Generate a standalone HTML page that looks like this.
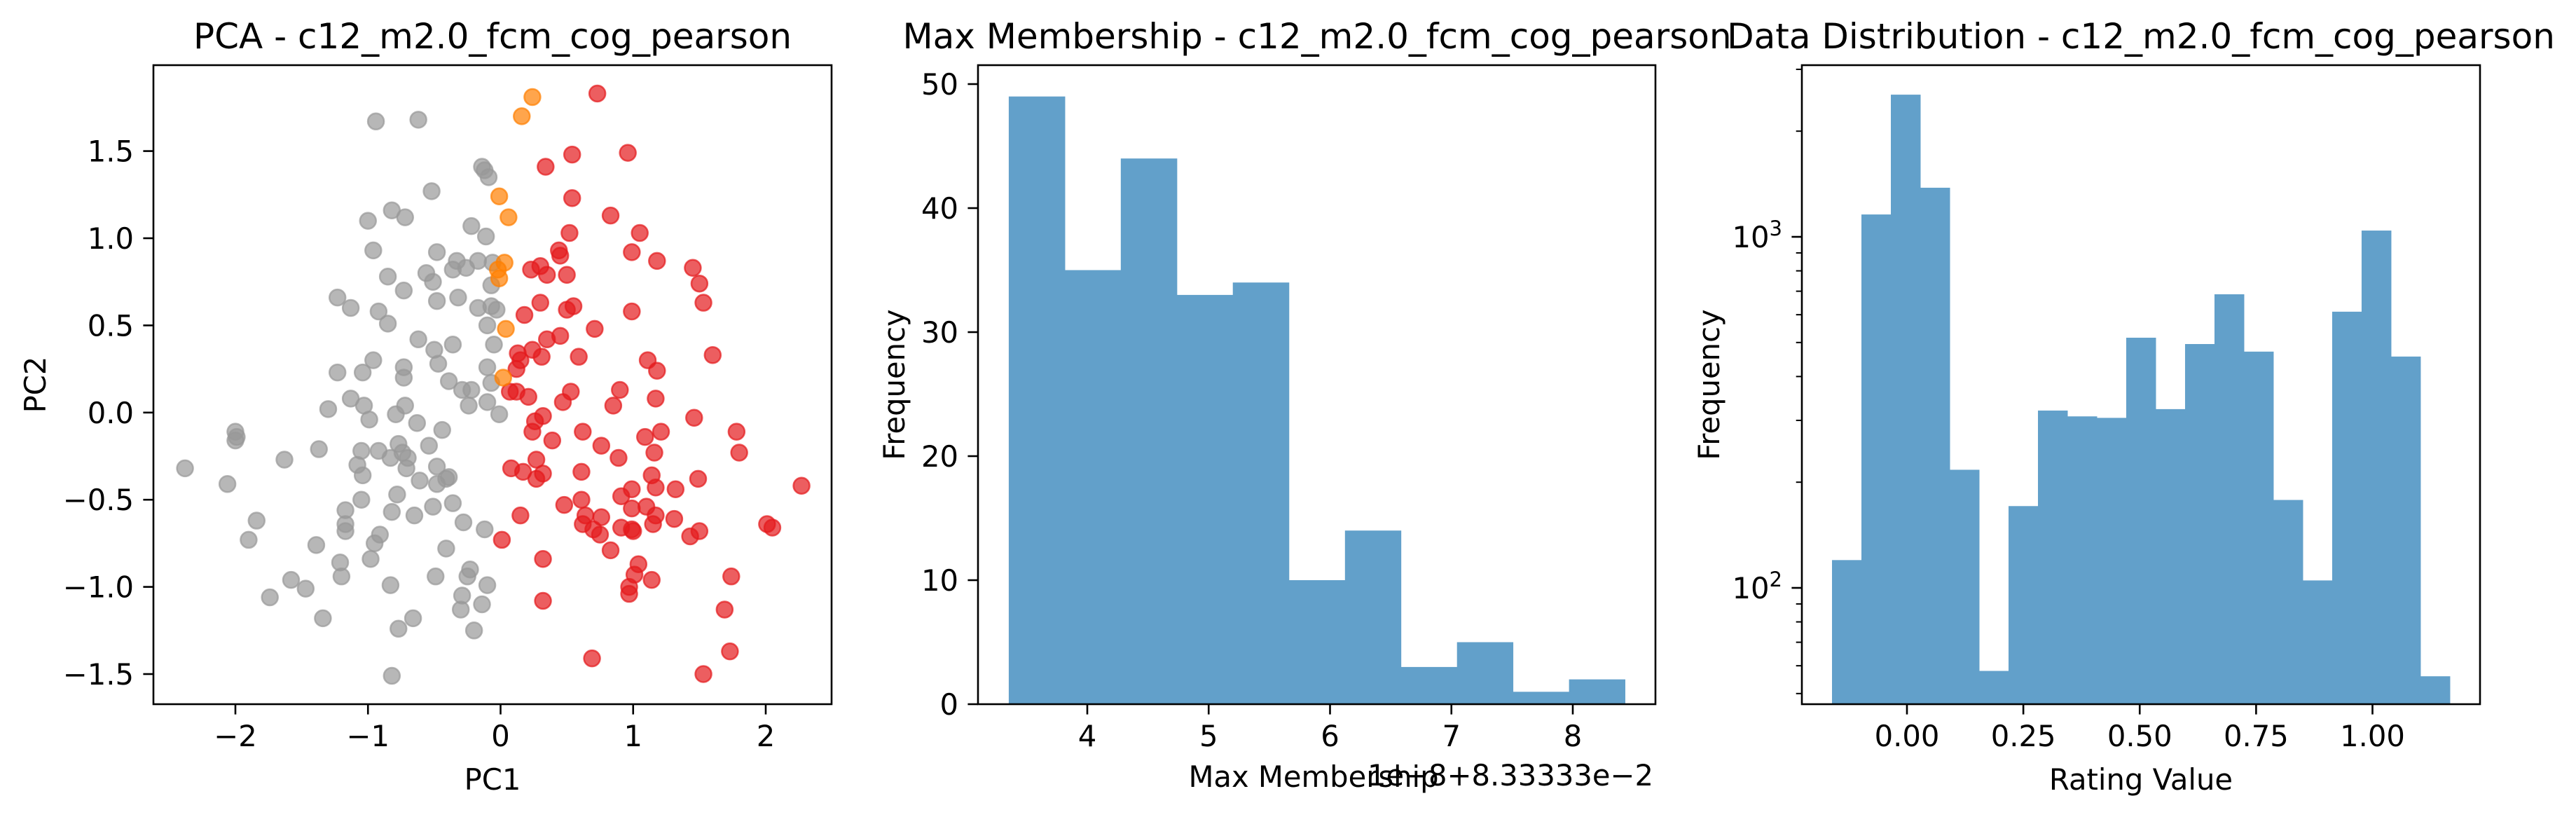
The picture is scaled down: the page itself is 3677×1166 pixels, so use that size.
<!DOCTYPE html>
<html><head><meta charset="utf-8"><style>
html,body{margin:0;padding:0;background:#fff}
svg{display:block}
text{font-family:"DejaVu Sans","Liberation Sans",sans-serif;fill:#000}
</style></head><body>
<svg id="fig" xmlns="http://www.w3.org/2000/svg" width="3677" height="1166" viewBox="0 0 3677 1166">
<rect width="3677" height="1166" fill="#fff"/>
</svg>
<script>
// ---- PCA data ----
const grayX=[-0.94,-0.62,-0.14,-0.12,-0.09,-0.52,-0.82,-0.72,-1.00,-0.22,-0.11,-0.96,-0.48,-0.33,-0.36,-0.26,-0.17,-0.06,-0.85,-0.56,-0.51,-0.07,-0.73,-1.23,-0.32,-0.48,-1.13,-0.92,-0.17,-0.07,-0.03,-0.85,-0.10,-0.62,-0.36,-0.50,-0.05,-0.96,-0.47,-0.73,-0.10,-1.23,-1.04,-0.73,-0.39,-0.07,-0.29,-0.22,-1.13,-1.03,-0.72,-1.30,-0.24,-0.10,-0.99,-0.79,-0.01,-0.63,-0.44,-2.00,-1.99,-2.00,-1.37,-0.54,-0.77,-1.05,-0.92,-0.74,-0.83,-0.70,-1.63,-2.38,-1.08,-0.48,-0.71,-1.04,-0.39,-0.41,-0.61,-0.48,-2.06,-0.78,-1.05,-0.36,-0.51,-1.17,-0.82,-0.65,-1.84,-1.17,-0.28,-1.17,-0.12,-1.90,-0.91,-0.95,-1.39,-0.41,-0.98,-1.21,-1.20,-0.49,-0.23,-0.25,-1.58,-0.83,-1.47,-0.10,-0.29,-1.74,-0.14,-0.30,-1.34,-0.66,-0.77,-0.20,-0.82];
const grayY=[1.67,1.68,1.41,1.39,1.35,1.27,1.16,1.12,1.10,1.07,1.01,0.93,0.92,0.87,0.82,0.83,0.87,0.86,0.78,0.80,0.75,0.73,0.70,0.66,0.66,0.64,0.60,0.58,0.60,0.61,0.59,0.51,0.50,0.42,0.39,0.36,0.39,0.30,0.28,0.26,0.26,0.23,0.23,0.20,0.18,0.17,0.13,0.13,0.08,0.04,0.04,0.02,0.04,0.06,-0.04,-0.01,-0.01,-0.06,-0.10,-0.11,-0.14,-0.16,-0.21,-0.19,-0.18,-0.22,-0.22,-0.23,-0.26,-0.26,-0.27,-0.32,-0.30,-0.31,-0.32,-0.36,-0.37,-0.38,-0.39,-0.41,-0.41,-0.47,-0.50,-0.52,-0.54,-0.56,-0.57,-0.59,-0.62,-0.64,-0.63,-0.68,-0.67,-0.73,-0.70,-0.75,-0.76,-0.78,-0.84,-0.86,-0.94,-0.94,-0.90,-0.94,-0.96,-0.99,-1.01,-0.99,-1.05,-1.06,-1.10,-1.13,-1.18,-1.18,-1.24,-1.25,-1.51];
const redX=[0.73,0.54,0.96,0.34,0.54,0.83,0.52,1.05,0.44,0.45,0.99,1.18,0.30,0.23,0.35,0.50,1.45,1.50,1.53,0.30,0.55,0.50,0.18,0.99,0.71,0.45,0.35,0.24,0.13,0.15,0.31,0.59,1.60,1.11,1.18,0.12,0.07,0.12,0.21,0.53,0.90,0.47,0.85,1.17,1.46,0.32,0.26,0.24,0.62,1.21,1.78,0.39,1.09,0.76,1.16,1.80,0.89,0.27,0.08,0.17,0.32,0.27,0.61,1.14,1.49,2.27,1.17,1.32,0.99,0.91,0.48,0.61,0.99,1.10,0.64,0.76,1.17,1.31,0.15,0.62,0.91,0.99,1.15,0.70,0.75,1.00,2.01,2.05,1.50,1.43,0.01,0.83,0.32,1.04,1.01,1.14,1.74,0.97,0.97,0.32,1.69,1.73,0.69,1.53];
const redY=[1.83,1.48,1.49,1.41,1.23,1.13,1.03,1.03,0.93,0.90,0.92,0.87,0.84,0.82,0.79,0.79,0.83,0.74,0.63,0.63,0.61,0.59,0.56,0.58,0.48,0.44,0.42,0.36,0.34,0.30,0.32,0.32,0.33,0.30,0.24,0.25,0.12,0.12,0.09,0.12,0.13,0.06,0.04,0.08,-0.03,-0.02,-0.05,-0.11,-0.11,-0.11,-0.11,-0.16,-0.14,-0.19,-0.23,-0.23,-0.26,-0.27,-0.32,-0.34,-0.35,-0.38,-0.34,-0.36,-0.38,-0.42,-0.43,-0.44,-0.44,-0.48,-0.53,-0.50,-0.55,-0.54,-0.59,-0.60,-0.59,-0.61,-0.59,-0.64,-0.66,-0.67,-0.64,-0.67,-0.70,-0.68,-0.64,-0.66,-0.68,-0.71,-0.73,-0.79,-0.84,-0.87,-0.93,-0.96,-0.94,-1.00,-1.04,-1.08,-1.13,-1.37,-1.41,-1.50];
const orangeX=[0.24,0.16,-0.01,0.06,0.03,-0.02,-0.01,0.04,0.02];
const orangeY=[1.81,1.70,1.24,1.12,0.86,0.82,0.77,0.48,0.20];
const pcaXTicks=[-2,-1,0,1,2];
const pcaYTicks=[-1.5,-1.0,-0.5,0.0,0.5,1.0,1.5];
// ---- Max membership histogram ----
const mmEdges=[3.353,3.815,4.276,4.738,5.199,5.661,6.123,6.584,7.046,7.507,7.969,8.43];
const mmCounts=[49,35,44,33,34,10,14,3,5,1,2];
const mmXTicks=[4,5,6,7,8];
const mmYTicks=[0,10,20,30,40,50];
// ---- Rating distribution histogram ----
const rvStart=-0.161, rvWidth=0.0632;
const rvCounts=[120,1158,2541,1380,217,58,171,320,308,305,516,323,495,686,471,178,105,612,1042,456,56];
const rvXTicks=[0,0.25,0.5,0.75,1.0];
const rvXTickLabels=["0.00","0.25","0.50","0.75","1.00"];
const rvYMajor=[100,1000];
const rvYMinor=[50,60,70,80,90,200,300,400,500,600,700,800,900,2000,3000];

const NS="http://www.w3.org/2000/svg";
const svg=document.getElementById('fig');
const BAR='#62a0ca';
function mk(tag,attrs,parent){const e=document.createElementNS(NS,tag);for(const k in attrs)e.setAttribute(k,attrs[k]);(parent||svg).appendChild(e);return e;}
function txt(s,x,y,size,anchor,parent,rot){const t=mk('text',{x:x,y:y,'font-size':size,'text-anchor':anchor||'middle'},parent);if(rot)t.setAttribute('transform','rotate(-90 '+x+' '+y+')');t.textContent=s;return t;}
function lin(d0,d1,p0,p1){return v=>p0+(v-d0)*(p1-p0)/(d1-d0);}
const TOP=93,BOT=1005,FS=41.7,TFS=50;
function frame(g,L,R){mk('rect',{x:L,y:TOP,width:R-L,height:BOT-TOP,fill:'none',stroke:'#000','stroke-width':2.6},g);}
function fmt(v){return (v<0?'\u2212':'')+Math.abs(v).toFixed(1);}

// ===== Panel 1: PCA =====
(function(){
 const g=mk('g',{});
 
 
 const L=219,R=1187;
 const sx=lin(-2,2,336,1093), sy=lin(-1.5,1.5,962,215.6);
 function pts(X,Y,col,name){const gg=mk('g',{},g);
  for(let i=0;i<X.length;i++){const c=mk('circle',{cx:sx(X[i]),cy:sy(Y[i]),r:11.5,fill:col,'fill-opacity':0.7,stroke:col,'stroke-opacity':0.7,'stroke-width':2.5},gg);
   
   }}
 pts(grayX,grayY,'#999999','cluster-gray');
 pts(redX,redY,'#e41a1c','cluster-red');
 pts(orangeX,orangeY,'#ff7f00','cluster-orange');
 frame(g,L,R);
 pcaXTicks.forEach(v=>{const x=sx(v);mk('line',{x1:x,x2:x,y1:BOT,y2:BOT+14.6,stroke:'#000','stroke-width':2.6},g);
  const t=txt(v<0?'\u2212'+Math.abs(v):String(v),x,BOT+60,FS,'middle',g);});
 pcaYTicks.forEach(v=>{const y=sy(v);mk('line',{x1:L,x2:L-14.6,y1:y,y2:y,stroke:'#000','stroke-width':2.6},g);
  const t=txt(fmt(v),L-28,y+15,FS,'end',g);});
 let t=txt('PCA - c12_m2.0_fcm_cog_pearson',703,69,TFS,'middle',g);
 t=txt('PC1',703,1127,FS,'middle',g);
 t=txt('PC2',65,549,FS,'middle',g,true);
})();

// ===== Panel 2: Max Membership =====
(function(){
 const g=mk('g',{});
 
 
 const L=1396,R=2363;
 const sx=lin(4,8,1552,2245), sy=lin(0,50,1005,120);
 for(let i=0;i<mmCounts.length;i++){const x0=sx(mmEdges[i]),x1=sx(mmEdges[i+1]);
  const b=mk('rect',{x:x0,y:sy(mmCounts[i]),width:x1-x0+0.5,height:sy(0)-sy(mmCounts[i]),fill:BAR},g);
  
  }
 frame(g,L,R);
 mmXTicks.forEach(v=>{const x=sx(v);mk('line',{x1:x,x2:x,y1:BOT,y2:BOT+14.6,stroke:'#000','stroke-width':2.6},g);
  const t=txt(String(v),x,BOT+60,FS,'middle',g);});
 mmYTicks.forEach(v=>{const y=sy(v);mk('line',{x1:L,x2:L-14.6,y1:y,y2:y,stroke:'#000','stroke-width':2.6},g);
  const t=txt(String(v),L-28,y+15,FS,'end',g);});
 let t=txt('Max Membership - c12_m2.0_fcm_cog_pearson',1880,69,TFS,'middle',g);
 t=txt('Max Membership',1875,1123,FS,'middle',g);
 t=txt('1e\u22128+8.33333e\u22122',2360,1121,FS,'end',g);
 t=txt('Frequency',1291,549,FS,'middle',g,true);
})();

// ===== Panel 3: Rating distribution (log) =====
(function(){
 const g=mk('g',{});
 
 
 const L=2572,R=3540;
 const sx=lin(0,1,2722,3386.5);
 const ly=lin(2,3,839,338); const sy=v=>ly(Math.log10(v));
 for(let i=0;i<rvCounts.length;i++){const x0=sx(rvStart+i*rvWidth),x1=sx(rvStart+(i+1)*rvWidth);
  const yt=sy(rvCounts[i]);
  const b=mk('rect',{x:x0,y:yt,width:x1-x0+0.5,height:BOT-yt,fill:BAR},g);
  
  }
 frame(g,L,R);
 rvXTicks.forEach((v,i)=>{const x=sx(v);mk('line',{x1:x,x2:x,y1:BOT,y2:BOT+14.6,stroke:'#000','stroke-width':2.6},g);
  const t=txt(rvXTickLabels[i],x,BOT+60,FS,'middle',g);});
 rvYMinor.forEach(v=>{const y=sy(v);if(y<TOP||y>BOT)return;mk('line',{x1:L,x2:L-8.3,y1:y,y2:y,stroke:'#000','stroke-width':2},g);});
 rvYMajor.forEach(v=>{const y=sy(v);mk('line',{x1:L,x2:L-14.6,y1:y,y2:y,stroke:'#000','stroke-width':2.6},g);
  const t=mk('text',{x:L-28,y:y+15,'font-size':FS,'text-anchor':'end'},g);
  
  
  const b=mk('tspan',{},t);b.textContent='10';
  const s=mk('tspan',{dy:-17,'font-size':29},t);s.textContent=String(Math.round(Math.log10(v)));});
 let t=txt('Data Distribution - c12_m2.0_fcm_cog_pearson',3056,69,TFS,'middle',g);
 t=txt('Rating Value',3056,1127,FS,'middle',g);
 t=txt('Frequency',2454,549,FS,'middle',g,true);
})();
</script>
</body></html>
